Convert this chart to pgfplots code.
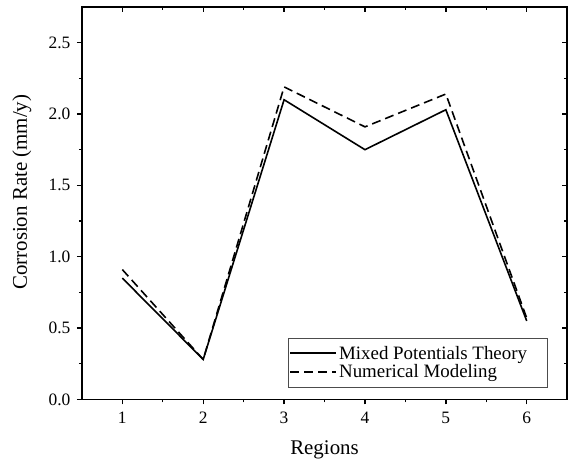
\documentclass[border=0pt]{standalone}
\usepackage{pgfplots}
\pgfplotsset{compat=1.18}
\usepackage{fontspec}
\setmainfont{Liberation Serif}
\begin{document}
\begin{tikzpicture}
\pgfplotsset{
  common/.style={
    scale only axis, width=486bp, height=393bp,
    xmin=0.5, xmax=6.5, ymin=0, ymax=2.75,
    xtick={1,2,3,4,5,6},
    ytick={0,0.5,1.0,1.5,2.0,2.5},
    minor x tick num=1, minor y tick num=1,
    axis line style={line width=1.6bp},
    major tick style={line width=1.4bp, black},
    minor tick style={line width=1.2bp, black},
    major tick length=5bp, minor tick length=3bp,
  }
}
\begin{axis}[common,
    xtick pos=left, ytick pos=left, tick align=outside,
    /pgf/number format/assume math mode=true,
    yticklabel style={/pgf/number format/fixed, /pgf/number format/fixed zerofill, /pgf/number format/precision=1, xshift=-3bp},
    xticklabel style={yshift=-4bp},
    tick label style={font=\fontsize{17.5}{19}\selectfont},
    xlabel={Regions}, ylabel={Corrosion Rate (mm/y)},
    every axis x label/.style={at={(rel axis cs:0.5,0)}, yshift=-50bp, anchor=center, font=\fontsize{21}{24}\selectfont},
    every axis y label/.style={at={(rel axis cs:0,0.528)}, xshift=-60bp, rotate=90, anchor=center, font=\fontsize{21}{24}\selectfont},
    legend cell align=left,
    legend image code/.code={\draw[#1, line width=1.8bp] (0bp,0bp) -- (46bp,0bp);},
    legend style={at={(rel axis cs:1,0)}, anchor=south east, xshift=-20bp, yshift=12bp,
      draw=black!70, font=\fontsize{19}{21}\selectfont,
      inner xsep=1bp, inner ysep=6bp, row sep=0bp},
]
\addplot[black, line width=1.6bp] coordinates {(1,0.85) (2,0.28) (3,2.10) (4,1.75) (5,2.03) (6,0.55)};
\addlegendentry{Mixed Potentials Theory\hspace*{17bp}}
\addplot[black, line width=1.6bp, dash pattern=on 9bp off 5bp] coordinates {(1,0.91) (2,0.28) (3,2.19) (4,1.91) (5,2.14) (6,0.57)};
\addlegendentry{Numerical Modeling}
\end{axis}
\begin{axis}[common,
    xtick pos=right, ytick pos=right, tick align=inside,
    xticklabels={}, yticklabels={},
]
\end{axis}
\path ([shift={(-82bp,-63bp)}]current axis.south west) rectangle ([shift={(6bp,7bp)}]current axis.north east);
\end{tikzpicture}
\end{document}
